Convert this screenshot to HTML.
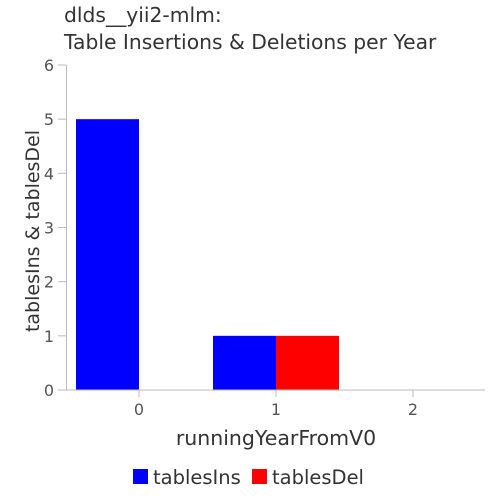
<!DOCTYPE html>
<html><head><meta charset="utf-8"><style>
html,body{margin:0;padding:0;background:#fff;}
svg{display:block;font-family:"DejaVu Sans","Liberation Sans",sans-serif;}
</style></head><body>
<svg id="chart" width="500" height="500">
<text x="64" y="22" font-size="20.3" fill="#333">dlds__yii2-mlm:</text>
<text x="64" y="49" font-size="20.3" fill="#333">Table Insertions &amp; Deletions per Year</text>
<g id="plot"></g>
<text transform="translate(39,231) rotate(-90)" text-anchor="middle" font-size="19" fill="#333">tablesIns &amp; tablesDel</text>
<text x="276" y="445" text-anchor="middle" font-size="20.5" fill="#333">runningYearFromV0</text>
<rect x="133" y="469" width="15" height="15" fill="#0000ff"/>
<text x="153" y="484" font-size="19.5" fill="#333">tablesIns</text>
<rect x="252" y="469" width="15" height="15" fill="#ff0000"/>
<text x="272" y="484" font-size="19.5" fill="#333">tablesDel</text>
</svg>
<script>
const categories = [0, 1, 2];
const tablesIns = [5, 1, 0];
const tablesDel = [0, 1, 0];
const yTicks = [0, 1, 2, 3, 4, 5, 6];
const seriesNames = ['tablesIns', 'tablesDel'];

const NS = 'http://www.w3.org/2000/svg';
const g = document.getElementById('plot');
const x0 = 66.5, x1 = 485, yBase = 390, yTop = 65, yMax = 6;
const y = v => yBase - (yBase - yTop) * v / yMax;
const xc = i => 139 + 137 * i;
const bw = 63;
function mk(tag, attrs){const e=document.createElementNS(NS,tag);for(const k in attrs)e.setAttribute(k,attrs[k]);g.appendChild(e);return e;}

yTicks.forEach(t=>{
  const l = mk('line',{x1:58,x2:x0,y1:y(t),y2:y(t),stroke:'#bbb'});
  
  
  const tx = mk('text',{x:54,y:y(t)+6,'text-anchor':'end','font-size':16,fill:'#555'});
  tx.textContent = t;
  
  
});
categories.forEach((c,i)=>{
  const l = mk('line',{x1:xc(i),x2:xc(i),y1:yBase,y2:yBase+7,stroke:'#bbb'});
  
  
  const tx = mk('text',{x:xc(i),y:yBase+25,'text-anchor':'middle','font-size':16,fill:'#555'});
  tx.textContent = c;
  
  
});
categories.forEach((c,i)=>{
  if (tablesIns[i] > 0) {
    const r = mk('rect',{x:xc(i)-bw,y:y(tablesIns[i]),width:bw,height:yBase-y(tablesIns[i]),fill:'#0000ff'});
    
    
  }
  if (tablesDel[i] > 0) {
    const r = mk('rect',{x:xc(i),y:y(tablesDel[i]),width:bw,height:yBase-y(tablesDel[i]),fill:'#ff0000'});
    
    
  }
});
const ya = mk('line',{x1:x0,x2:x0,y1:yTop,y2:yBase,stroke:'#bbb'});


const xa = mk('line',{x1:x0,x2:x1,y1:yBase,y2:yBase,stroke:'#bbb'});


</script>
</body></html>
